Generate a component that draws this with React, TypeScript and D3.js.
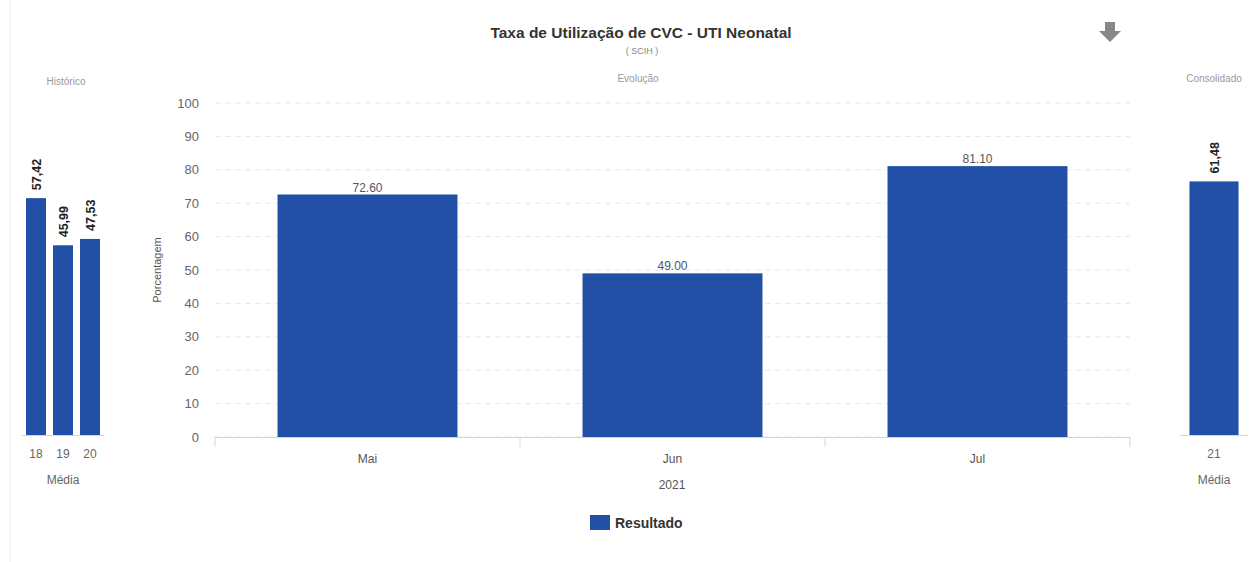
import React from "react";
import * as d3 from "d3";

const months = ["Mai", "Jun", "Jul"];
const resultado = [72.6, 49.0, 81.1];
const histYears = ["18", "19", "20"];
const histValues = [57.42, 45.99, 47.53];
const consYears = ["21"];
const consValues = [61.48];
const yTicks = [0, 10, 20, 30, 40, 50, 60, 70, 80, 90, 100];

const BAR = "#2150a6";
const FONT = "'Liberation Sans', Arial, sans-serif";

export default function App() {
  const x = d3.scaleBand<string>().domain(months).range([215, 1130]).paddingInner(0.41).paddingOuter(0.205);
  const y = d3.scaleLinear().domain([0, 100]).range([437, 103]);

  const xh = d3.scaleBand<string>().domain(histYears).range([22.5, 103.5]).paddingInner(0.26).paddingOuter(0.13);
  const yh = d3.scaleLinear().domain([0, 80]).range([435, 105]);

  const xc = d3.scaleBand<string>().domain(consYears).range([1184, 1244]).padding(0.1);

  const fmtDot = (v: number) => d3.format(".2f")(v);
  const fmtComma = (v: number) => d3.format(".2f")(v).replace(".", ",");

  const step = x.step();
  const boundaries = [0, 1, 2, 3].map((i) => 215 + i * step);

  return (
    <svg width={1257} height={562} style={{ position: "absolute", left: 0, top: 0, background: "#fff" }} fontFamily={FONT}>
      <line x1={10} x2={10} y1={0} y2={562} stroke="#eeeeee" />
      {/* Title */}
      <text x={641} y={38} textAnchor="middle" fontSize={15.5} fontWeight="bold" fill="#333">
        Taxa de Utilização de CVC - UTI Neonatal
      </text>
      <text x={642} y={54} textAnchor="middle" fontSize={9} fill="#888">( SCIH )</text>
      <text x={638} y={82} textAnchor="middle" fontSize={10} fill="#999">Evolução</text>
      <text x={66} y={85} textAnchor="middle" fontSize={10} fill="#999">Histórico</text>
      <text x={1214} y={82} textAnchor="middle" fontSize={10} fill="#999">Consolidado</text>

      {/* Download icon */}
      <path d="M1105,22 H1115 V31 H1121 L1110,42 L1099,31 H1105 Z" fill="#888" />

      {/* Main gridlines */}
      {yTicks.map((t) => (
        <g key={t}>
          <line x1={215} x2={1130} y1={y(t)} y2={y(t)} stroke="#e8e8e8" strokeDasharray="6,4" />
          <text x={199} y={y(t) + 4.5} textAnchor="end" fontSize={13} fill="#666">{t}</text>
        </g>
      ))}
      <text transform={`translate(161,270) rotate(-90)`} textAnchor="middle" fontSize={11} fill="#555">Porcentagem</text>

      {/* Main bars */}
      {months.map((m, i) => (
        <g key={m}>
          <rect x={x(m)} y={y(resultado[i])} width={x.bandwidth()} height={y(0) - y(resultado[i])} fill={BAR} />
          <text x={(x(m) as number) + x.bandwidth() / 2} y={y(resultado[i]) - 3} textAnchor="middle" fontSize={12} fill="#556">
            {fmtDot(resultado[i])}
          </text>
          <text x={(x(m) as number) + x.bandwidth() / 2} y={463} textAnchor="middle" fontSize={12} fill="#555">{m}</text>
        </g>
      ))}
      <line x1={215} x2={1130} y1={437.5} y2={437.5} stroke="#ccd6eb" />
      {boundaries.map((b, i) => (
        <line key={i} x1={b} x2={b} y1={437} y2={447} stroke="#ccd6eb" />
      ))}
      <text x={672} y={489} textAnchor="middle" fontSize={12} fill="#555">2021</text>

      {/* Legend */}
      <rect x={590} y={515} width={20} height={15} fill={BAR} />
      <text x={615} y={528} fontSize={14} fontWeight="bold" fill="#333">Resultado</text>

      {/* Historico */}
      {histYears.map((yr, i) => {
        const cx = (xh(yr) as number) + xh.bandwidth() / 2;
        return (
          <g key={yr}>
            <rect x={xh(yr)} y={yh(histValues[i])} width={xh.bandwidth()} height={yh(0) - yh(histValues[i])} fill={BAR} />
            <text transform={`translate(${cx + 4.5},${yh(histValues[i]) - 8}) rotate(-90)`} fontSize={12.5} fontWeight="bold" fill="#222">
              {fmtComma(histValues[i])}
            </text>
            <text x={cx} y={458} textAnchor="middle" fontSize={12} fill="#666">{yr}</text>
          </g>
        );
      })}
      <line x1={22} x2={104} y1={435.5} y2={435.5} stroke="#ccd6eb" />
      <text x={63} y={484} textAnchor="middle" fontSize={12} fill="#666">Média</text>

      {/* Consolidado */}
      {consYears.map((yr, i) => {
        const cx = (xc(yr) as number) + xc.bandwidth() / 2;
        return (
          <g key={yr}>
            <rect x={xc(yr)} y={yh(consValues[i])} width={xc.bandwidth()} height={yh(0) - yh(consValues[i])} fill={BAR} />
            <text transform={`translate(${cx + 4.5},${yh(consValues[i]) - 8}) rotate(-90)`} fontSize={12.5} fontWeight="bold" fill="#222">
              {fmtComma(consValues[i])}
            </text>
            <text x={cx} y={458} textAnchor="middle" fontSize={12} fill="#666">{yr}</text>
          </g>
        );
      })}
      <line x1={1180} x2={1248} y1={435.5} y2={435.5} stroke="#ccd6eb" />
      <text x={1214} y={484} textAnchor="middle" fontSize={12} fill="#666">Média</text>
    </svg>
  );
}
